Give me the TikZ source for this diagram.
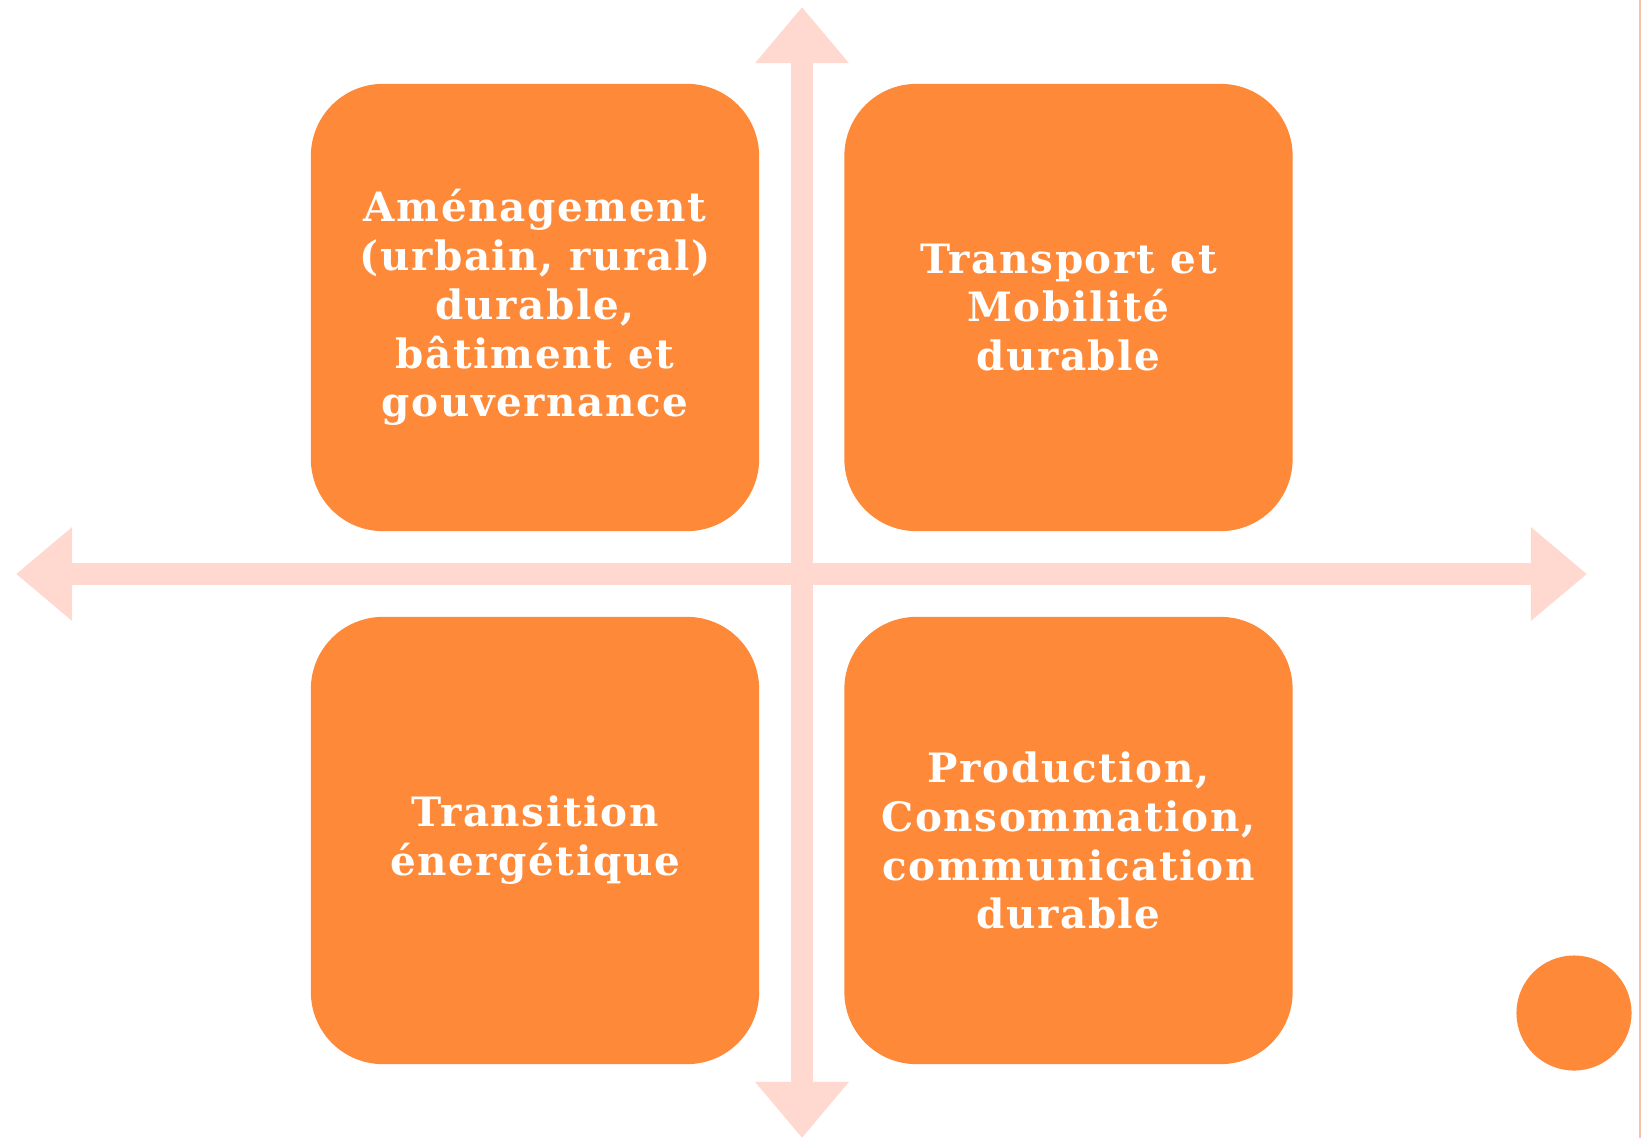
\documentclass[tikz,border=0pt]{standalone}
\usepackage{fontspec}
\newfontfamily\quadfont[LetterSpace=4]{DejaVu Serif}
\usetikzlibrary{arrows.meta}
\definecolor{quadorange}{RGB}{254,137,57}
\definecolor{axispink}{RGB}{255,217,207}
\definecolor{edgepink}{RGB}{248,192,172}
\begin{document}
\begin{tikzpicture}[x=0.01cm, y=-0.01cm, font=\quadfont\bfseries\fontsize{11.5pt}{13.9pt}\selectfont,
	quad/.style={fill=quadorange, rounded corners=0.72cm, minimum width=4.48cm, minimum height=4.47cm, text=white, align=center, inner sep=0pt},
	axis/.style={draw=axispink, line width=0.22cm, {Triangle[length=0.56cm, width=0.9cm]}-{Triangle[length=0.56cm, width=0.9cm]}}]
			\useasboundingbox (0,0) rectangle (1641,1138);
			% axes
			\coordinate (top) at (802,7);
			\coordinate (bottom) at (802,1138);
			\coordinate (left) at (16,574);
			\coordinate (right) at (1587,574);
			\draw[axis] (top) -- (bottom);
			\draw[axis] (left) -- (right);
			% quadrants
			\node[quad] (amenag) at (535,307.5) {Aménagement\\(urbain, rural)\\durable,\\bâtiment et\\gouvernance};
			\node[quad] (transport) at (1068.5,307.5) {Transport et\\Mobilité\\durable};
			\node[quad] (energie) at (535,840.5) {Transition\\énergétique};
			\node[quad] (production) at (1068.5,840.5) {Production,\\Consommation,\\communication\\durable};
			% dot and page edge
			\node[circle, fill=quadorange, minimum size=1.15cm, inner sep=0pt] (dot) at (1574,1013) {};
			\draw[edgepink, line width=0.02cm] (1640,0) -- (1640,1138);
\end{tikzpicture}
\end{document}
